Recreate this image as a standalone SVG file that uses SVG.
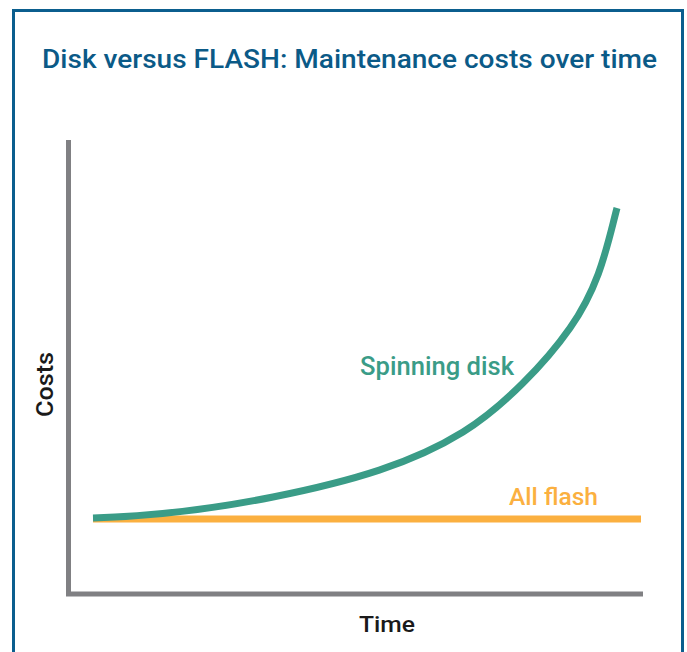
<svg xmlns="http://www.w3.org/2000/svg" width="687" height="652" viewBox="0 0 687 652">
<style>
.lbl{font-family:Roboto,"Liberation Sans",Arial,sans-serif;font-weight:500}
.axis{stroke:#808083;stroke-width:5;fill:none}
</style>
<rect width="687" height="652" fill="#ffffff"/>
<g id="frame"><rect x="13.5" y="10.5" width="669" height="680" fill="none" stroke="#0b5e8e" stroke-width="3"/></g>
<g id="title"><text class="lbl" x="42" y="68" font-size="25.5" fill="#0b5a87" textLength="615" lengthAdjust="spacingAndGlyphs">Disk versus FLASH: Maintenance costs over time</text></g>
<g id="axes">
<polyline class="axis" points="68.5,140 68.5,594 643,594"/>
<text class="lbl" transform="translate(53,384.5) rotate(-90)" text-anchor="middle" font-size="24.5" fill="#1a1a1a" textLength="65" lengthAdjust="spacingAndGlyphs">Costs</text>
<text class="lbl" x="387" y="632" text-anchor="middle" font-size="22.5" fill="#1a1a1a" textLength="56" lengthAdjust="spacingAndGlyphs">Time</text>
</g>
<g id="connectors">
<line id="all-flash" x1="93" y1="519" x2="641" y2="519" stroke="#fbb040" stroke-width="7"/>
<path id="spinning-disk" d="M93,518 C153,516.2 213,509 273,497 C353,481 413,463 463,432 C503,407.2 546,362.3 570,328 C600,285.1 607,246 617,208" fill="none" stroke="#3a9c87" stroke-width="7"/>
</g>
<g id="label-spinning"><text class="lbl" x="360" y="375" font-size="25" fill="#3a9c87" textLength="154" lengthAdjust="spacingAndGlyphs">Spinning disk</text></g>
<g id="label-flash"><text class="lbl" x="509" y="505" font-size="24" fill="#fbb040" textLength="89" lengthAdjust="spacingAndGlyphs">All flash</text></g>
</svg>
